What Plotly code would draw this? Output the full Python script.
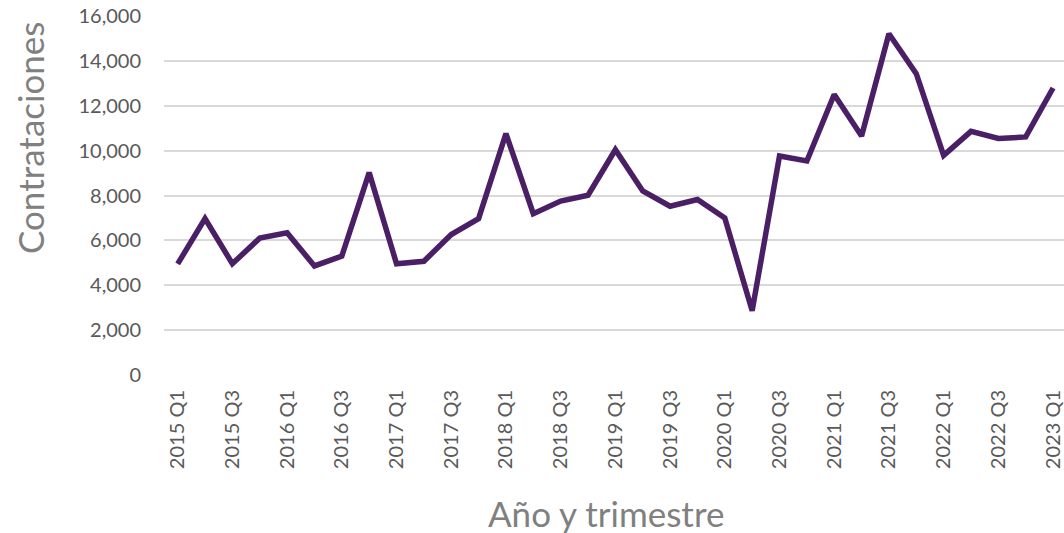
import plotly.graph_objects as go

quarters = [f"{y} Q{q}" for y in range(2015, 2023) for q in (1, 2, 3, 4)] + ["2023 Q1"]
contrataciones = [
    4950, 6970, 4960, 6100, 6340, 4860, 5300, 9020, 4960, 5070, 6260,
    6970, 10760, 7190, 7750, 8010, 10040, 8200, 7520, 7820, 7000, 2860,
    9760, 9540, 12500, 10650, 15210, 13430, 9790, 10860, 10540, 10610, 12790,
]
tick_labels = quarters[::2]
y_ticks = list(range(0, 16001, 2000))

FONT = "Lato, 'Open Sans', sans-serif"

# body margin is removed below; figure is slightly wider than the window so the
# plot area reaches the right edge of the visible page
W, H = 1080, 533
L, R, T, B = 164, 16, 16, 158
PW, PH = W - L - R, H - T - B

def px(xp):  # page x -> paper fraction
    return (xp - L) / PW

def py(yp):  # page y -> paper fraction
    return (H - B - yp) / PH

fig = go.Figure()
fig.add_trace(go.Scatter(
    x=quarters, y=contrataciones, mode="lines",
    line=dict(color="#4a1f66", width=5.5),
    showlegend=False, hoverinfo="x+y",
))

fig.update_layout(
    width=W, height=H,
    margin=dict(l=L, r=R, t=T, b=B, autoexpand=False),
    paper_bgcolor="white", plot_bgcolor="white",
    font=dict(family=FONT, color="#595959"),
    xaxis=dict(
        type="category", range=[-0.5, 32.4],
        tickmode="array", tickvals=tick_labels, ticktext=tick_labels,
        tickangle=-90, tickfont=dict(size=20, color="#595959"),
        showgrid=False, showline=False, zeroline=False,
        ticks="", ticklabelstandoff=10, ticklabeloverflow="allow",
    ),
    yaxis=dict(
        range=[0, 16000], tickvals=y_ticks, tickformat=",",
        tickfont=dict(size=20, color="#595959"),
        showgrid=True, gridcolor="#d9d9d9", gridwidth=1.5,
        zeroline=False, showline=False, ticks="", ticklabelstandoff=22,
        ticklabeloverflow="allow",
    ),
    annotations=[
        dict(text="Contrataciones", x=px(30), y=py(138), xref="paper", yref="paper",
             showarrow=False, textangle=-90, font=dict(size=35, color="#808080"),
             xanchor="center", yanchor="middle"),
        dict(text="Año y trimestre", x=px(606), y=py(513), xref="paper", yref="paper",
             showarrow=False, font=dict(size=35, color="#808080"),
             xanchor="center", yanchor="middle"),
    ],
)

fig.write_html("out.html", config={"displayModeBar": False},
               post_script="document.body.style.margin='0';")
